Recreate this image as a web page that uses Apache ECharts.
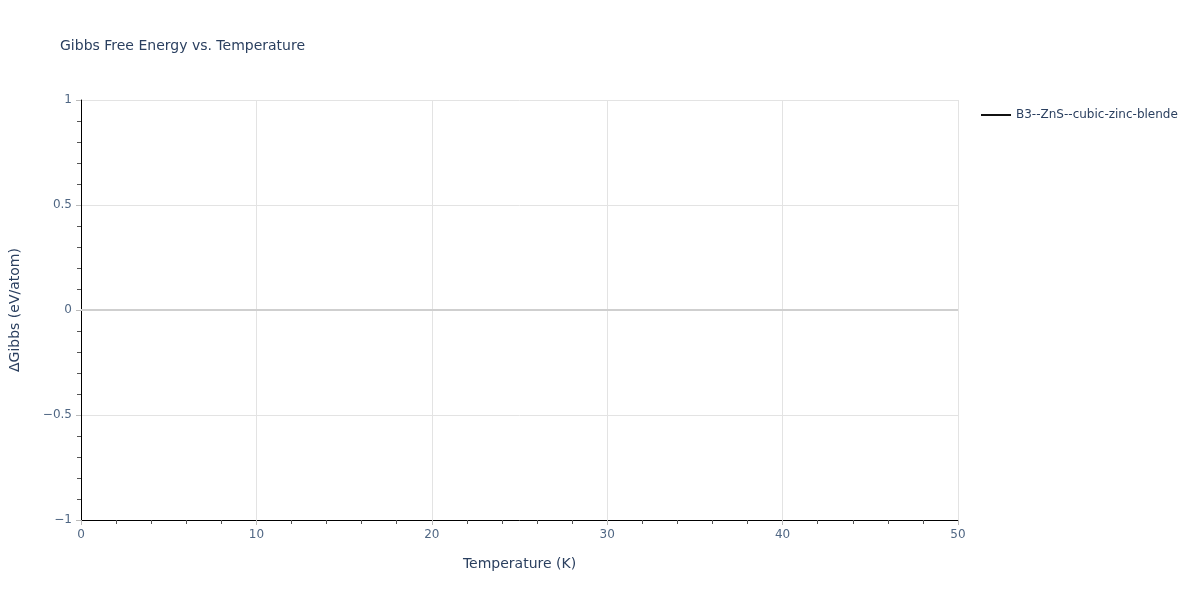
<!DOCTYPE html>
<html>
<head>
<meta charset="utf-8">
<script src="https://cdn.jsdelivr.net/npm/echarts@6/dist/echarts.min.js"></script>
<style>
  html, body { margin: 0; padding: 0; background: #fff; }
  #chart { width: 1200px; height: 600px; }
</style>
</head>
<body>
<div id="chart"></div>
<script>
// the reference draws no visible points for this phase, so its series is empty
const seriesName = 'B3--ZnS--cubic-zinc-blende'
const temperatures = []
const gibbsValues = []

const xTicks = [0, 10, 20, 30, 40, 50]
const yTicks = [-1, -0.5, 0, 0.5, 1]

const points = temperatures.map((t, i) => [t, gibbsValues[i]])
const fontFamily = '"DejaVu Sans", Verdana, sans-serif'
const textColor = '#2a3f5f'
const tickColor = '#506784'

const chart = echarts.init(document.getElementById('chart'))
chart.setOption({
  animation: false,
  textStyle: { fontFamily: fontFamily },
  title: {
    text: 'Gibbs Free Energy vs. Temperature',
    left: 55,
    top: 34,
    textStyle: { fontFamily: fontFamily, fontSize: 14, fontWeight: 'normal', color: textColor }
  },
  legend: {
    left: 976,
    top: 104,
    itemWidth: 30,
    itemHeight: 2,
    itemGap: 6,
    icon: 'rect',
    textStyle: { fontFamily: fontFamily, fontSize: 12, color: textColor },
    data: [seriesName]
  },
  grid: { left: 80, top: 100, width: 878, height: 420, containLabel: false },
  xAxis: {
    type: 'value',
    min: xTicks[0],
    max: xTicks[xTicks.length - 1],
    interval: 10,
    name: 'Temperature (K)',
    nameLocation: 'middle',
    nameGap: 37,
    nameTextStyle: { fontSize: 14, color: textColor },
    axisLine: { show: true, onZero: false, lineStyle: { color: '#000', width: 1 } },
    axisTick: { show: true, length: 5, lineStyle: { color: '#bbb' } },
    minorTick: { show: true, splitNumber: 5, length: 4, lineStyle: { color: '#555' } },
    axisLabel: { fontSize: 12, color: tickColor, margin: 9 },
    splitLine: { show: true, lineStyle: { color: '#e3e3e3', width: 1 } }
  },
  yAxis: {
    type: 'value',
    min: yTicks[0],
    max: yTicks[yTicks.length - 1],
    interval: 0.5,
    name: 'ΔGibbs (eV/atom)',
    nameLocation: 'middle',
    nameGap: 59,
    nameTextStyle: { fontSize: 14, color: textColor },
    axisLine: { show: true, onZero: false, lineStyle: { color: '#000', width: 1 } },
    axisTick: { show: true, length: 5, lineStyle: { color: '#bbb' } },
    minorTick: { show: true, splitNumber: 5, length: 4, lineStyle: { color: '#555' } },
    axisLabel: {
      fontSize: 12,
      color: tickColor,
      margin: 9,
      formatter: v => String(v).replace('-', '\u2212')
    },
    splitLine: { show: true, lineStyle: { color: '#e3e3e3', width: 1 } }
  },
  series: [
    {
      name: seriesName,
      type: 'line',
      data: points,
      showSymbol: false,
      lineStyle: { color: '#111', width: 2 },
      itemStyle: { color: '#111' },
      markLine: {
        silent: true,
        symbol: 'none',
        label: { show: false },
        lineStyle: { color: '#cfcfcf', width: 2, type: 'solid' },
        data: [{ yAxis: 0 }]
      }
    }
  ]
})
</script>
</body>
</html>
